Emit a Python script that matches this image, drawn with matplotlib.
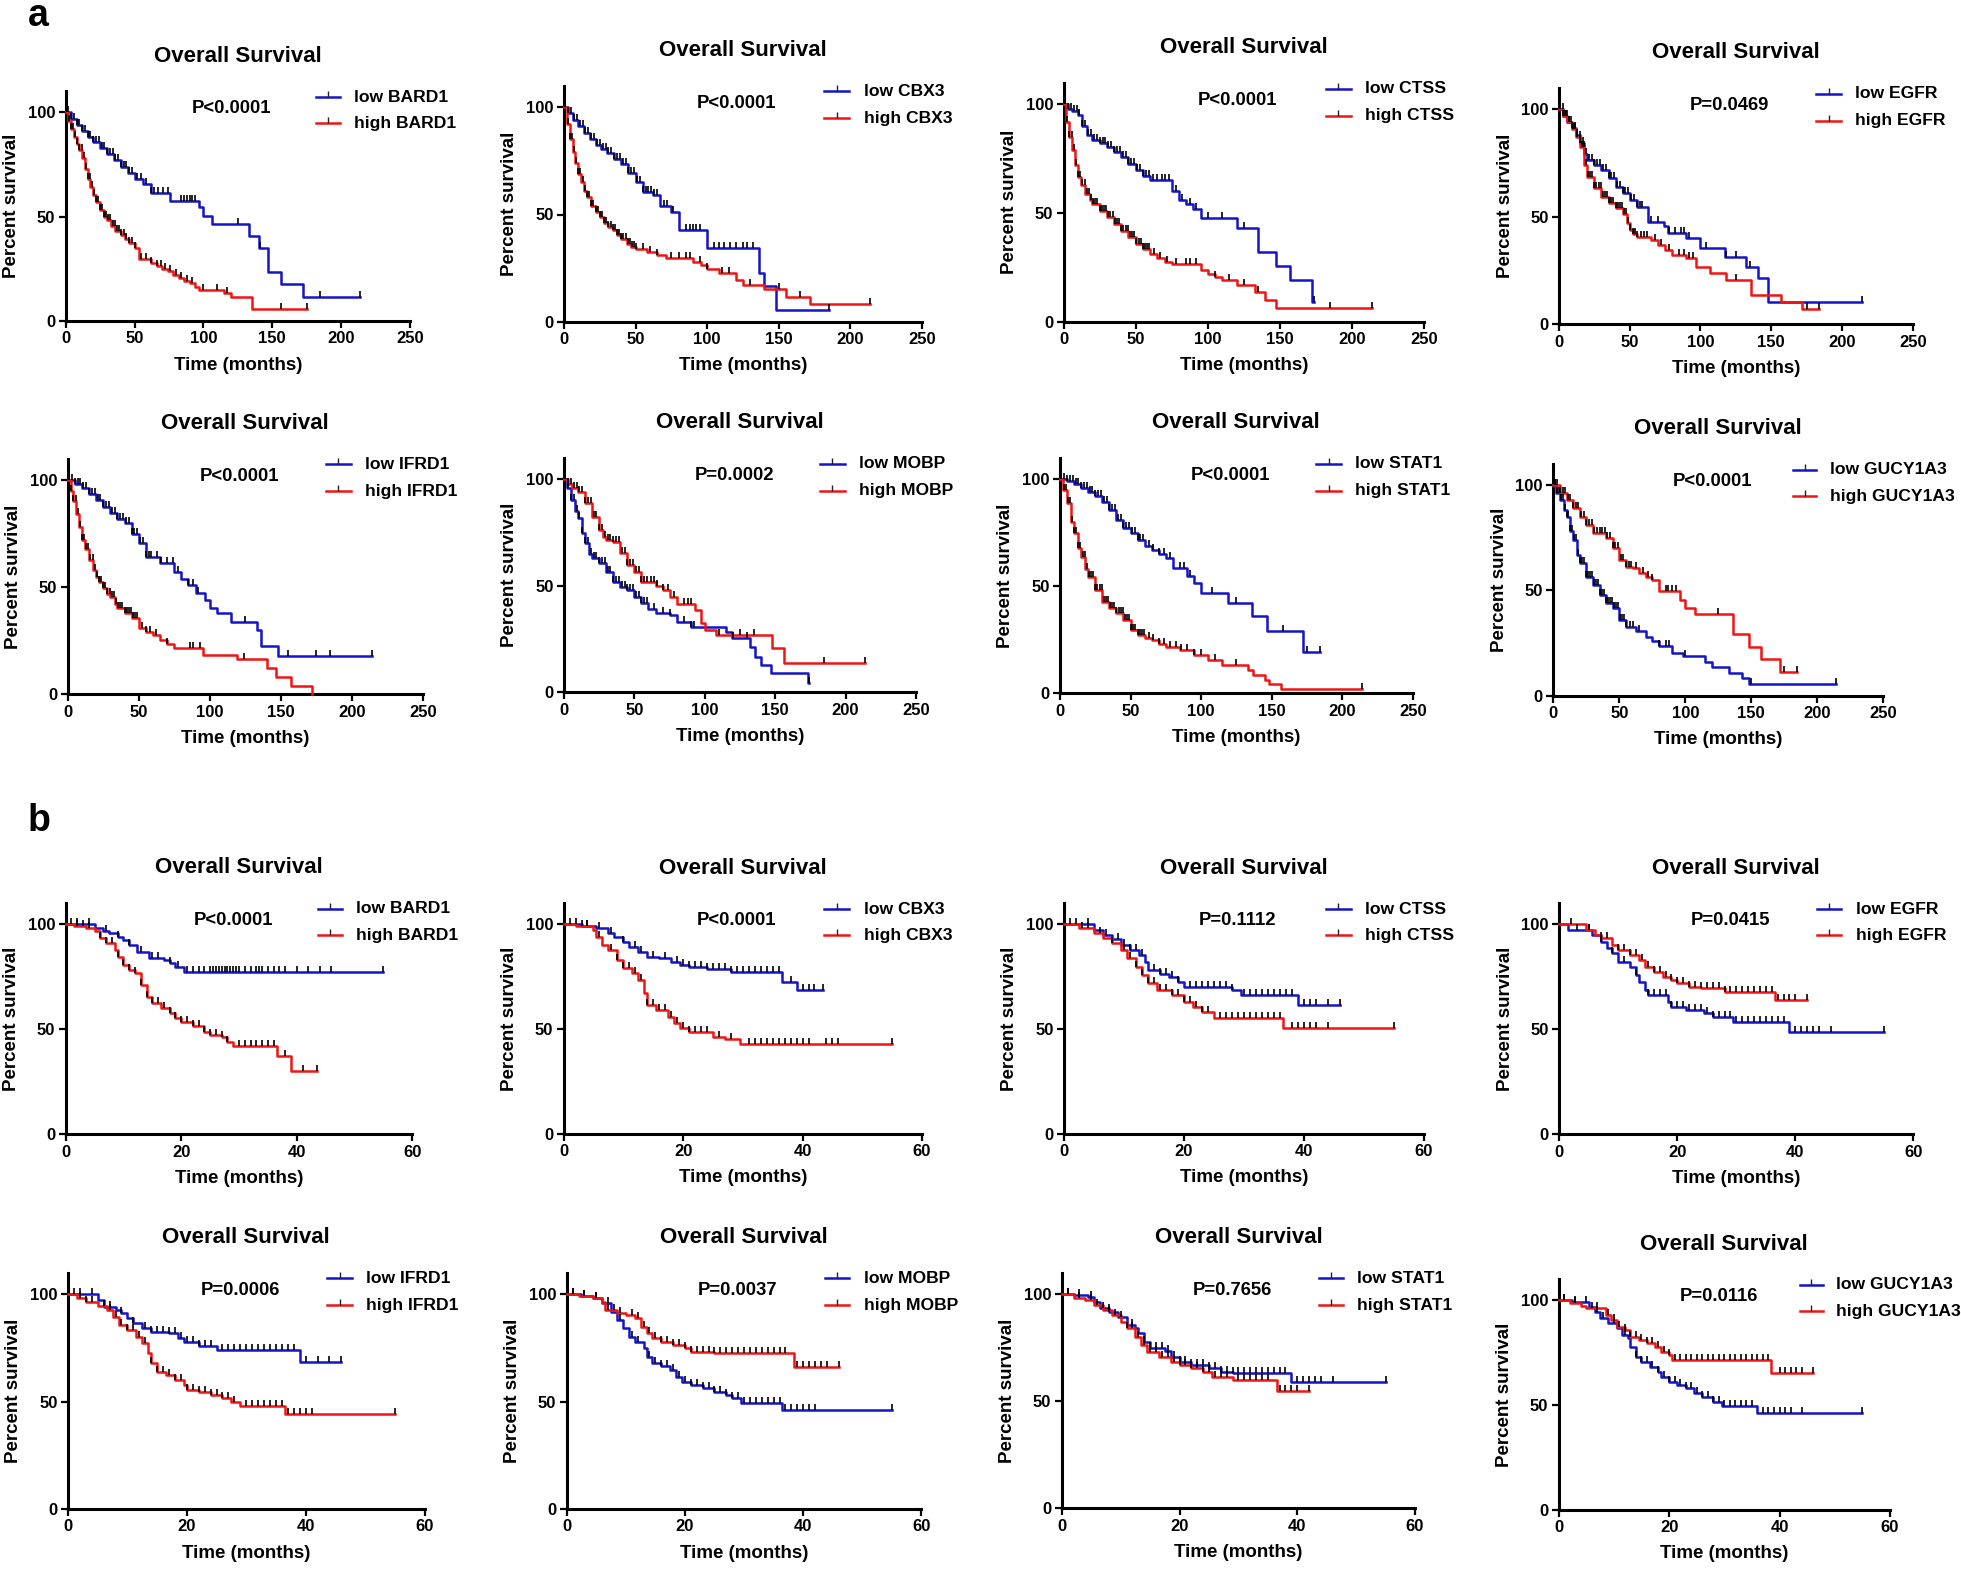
import numpy as np
import matplotlib.pyplot as plt

plt.rcParams['font.family'] = ['Liberation Sans', 'DejaVu Sans']
plt.rcParams['font.weight'] = 'bold'

# ---------------- data ----------------
# each curve: (months, percent survival) where a step starts; censor times in months
genes = ['BARD1', 'CBX3', 'CTSS', 'EGFR', 'IFRD1', 'MOBP', 'STAT1', 'GUCY1A3']
pvals_a = ['P<0.0001', 'P<0.0001', 'P<0.0001', 'P=0.0469',
           'P<0.0001', 'P=0.0002', 'P<0.0001', 'P<0.0001']
pvals_b = ['P<0.0001', 'P<0.0001', 'P=0.1112', 'P=0.0415',
           'P=0.0006', 'P=0.0037', 'P=0.7656', 'P=0.0116']

# --- panel a (0-250 months) ---
a_low_bard1 = [(0,100),(4,97),(8,94),(12,91),(16,88),(20,86),(25,83),(30,80),(35,77),(40,74),(45,71),
               (50,68),(56,65.5),(62,61.5),(76,57.5),(97,54.5),(100,50.5),(106,46.3),(133,40.8),
               (140,35),(147,23.3),(156,17.6),(172,11.7)]
a_low_bard1_c = [2,4,6,8,10,12,14,16,18,20,22,24,26,28,30,32,34,36,38,40,42,44,46,48,52,55,58,62,64,
                 67,71,74,84,86,88,90,92,94,125,141,185,214]
a_high_bard1 = [(0,100),(2,96),(4,92),(6,88),(8,85),(10,82),(12,78),(14,73),(16,68),(18,64),(20,60.5),
                (22,57),(25,53),(28,50),(30,48.5),(33,45.5),(36,43),(40,41),(43,39.5),(46,37.5),(50,35),
                (53,29.8),(62,28),(66,26.5),(70,25),(74,24),(78,22),(82,20.5),(86,19),(90,18),(94,16.5),
                (97,15),(115,13.3),(120,11.5),(135,5.6)]
a_high_bard1_c = [1,2.5,4,5.5,7,8.5,10,11.5,13,14.5,16,17.5,19,20.5,22,23.5,25,26.5,28,29.5,31,32.5,34,
                  35.5,37,38.5,40,42,44,46,48,50,55,58,62,66,69,72,76,80,84,88,92,100,110,117,156,175]

a_low_cbx3 = [(0,100),(3,97),(6,94),(10,91),(14,88),(18,85),(22,82.5),(26,80.5),(30,78.5),(35,76),
              (40,73.5),(45,69.5),(50,65),(55,60.5),(62,58.9),(67,54),(75,51),(80,42.6),(100,34.6),
              (136,22.8),(140,16.7),(148,5.4)]
a_low_cbx3_c = [1,3,5,7,9,11,13,15,17,19,21,23,25,27,29,31,33,35,37,39,41,43,45,47,49,51,53,55,57,59,
                61,63,65,70,72,76,85,88,90,92,95,105,108,112,116,120,125,128,132,185]
a_high_cbx3 = [(0,100),(2,92),(4,85),(6,79),(8,74),(10,69),(12,65),(14,61),(16,58),(19,54),(22,51),
               (25,48.8),(28,46),(31,44),(34,42.6),(37,40.5),(40,38.8),(44,36.5),(47,35),(50,34),
               (58,32.5),(65,31),(71,30),(90,27.9),(96,26.3),(100,24.8),(108,22.8),(120,19.4),
               (125,17.4),(140,15.2),(155,11.6),(172,8.5)]
a_high_cbx3_c = [1,2.5,4,5.5,7,8.5,10,11.5,13,14.5,16,17.5,19,20.5,22,23.5,25,26.5,28,29.5,31,32.5,
                 34,35.5,37,38.5,40,41.5,43,44.5,46,47.5,49,50.5,55,60,65,75,80,85,88,95,100,110,115,
                 130,150,165,214]

a_low_ctss = [(0,100),(3,98),(6,97),(10,95),(13,90),(16,86),(20,83.6),(25,82),(30,80.5),(35,78),
              (40,75.9),(45,72.5),(50,69.8),(55,67),(60,65.2),(75,60),(80,56),(85,54.4),(90,52),
              (95,47.8),(120,43.3),(135,32.2),(147,25.8),(157,19.5),(172,9.2)]
a_low_ctss_c = [1,3,5,7,9,11,13,15,17,19,21,23,25,27,29,31,33,35,37,39,41,43,45,47,49,51,53,55,57,59,
                62,65,68,70,73,78,82,88,92,100,110,125,174]
a_high_ctss = [(0,100),(2,92),(4,85),(6,79),(8,72),(10,66.7),(12,63),(15,59),(18,56),(20,54.3),(25,51),
               (30,48.3),(35,45),(40,42),(45,39),(50,36),(55,33.5),(60,31.4),(65,29.5),(70,27.6),
               (75,26.5),(95,24),(100,22.2),(105,20.5),(110,19.5),(120,16.9),(133,13.8),(140,10),
               (147,6.3)]
a_high_ctss_c = [1,2.5,4,5.5,7,8.5,10,11.5,13,14.5,16,17.5,19,20.5,22,23.5,25,26.5,28,29.5,31,32.5,34,
                 35.5,37,38.5,40,41.5,43,44.5,46,47.5,49,50.5,52,53.5,55,56.5,58,59.5,63,67,72,78,85,
                 88,92,105,115,125,135,185,214]

a_low_egfr = [(0,100),(3,97),(6,94),(9,91.5),(12,88),(15,84.2),(18,79),(20,76.4),(25,74),(30,71.8),
              (35,68),(40,64),(45,61),(50,57.8),(55,54.4),(63,47.8),(74,45.5),(77,42.3),(90,40),
              (100,35.3),(117,31.5),(132,26.8),(141,21.4),(148,10.5)]
a_low_egfr_c = [1,3,5,7,9,11,13,15,17,19,21,23,25,27,29,31,33,35,37,39,41,43,45,47,49,51,53,55,57,59,
                65,70,78,82,86,88,92,104,118,125,135,214]
a_high_egfr = [(0,100),(3,97),(6,94),(9,91),(12,87),(15,82.6),(18,74),(20,68.7),(25,63.3),(30,59.4),
               (35,56.5),(40,54),(45,51.5),(48,47),(50,44),(52,42),(55,40.5),(65,39),(70,36.9),
               (75,34.5),(80,32.2),(90,30.7),(97,26.8),(107,23.7),(118,20.6),(136,13.6),(157,10.5),
               (172,7.1)]
a_high_egfr_c = [1,2.5,4,5.5,7,8.5,10,11.5,13,14.5,16,17.5,19,20.5,22,23.5,25,26.5,28,29.5,31,32.5,34,
                 35.5,37,38.5,40,41.5,43,44.5,46,47.5,49,50.5,52,53.5,55,58,60,62,68,72,78,85,88,92,
                 95,125,175,184]

a_low_ifrd1 = [(0,100),(5,98),(10,96.1),(15,93.5),(20,90.7),(25,87.5),(30,84.4),(35,82),(40,79.8),
               (45,75),(50,70.5),(55,64.2),(65,61.1),(75,57.2),(80,54),(85,51),(90,47.1),(97,44),
               (100,40.1),(105,37.8),(115,33.9),(133,30),(136,22.6),(148,17.9)]
a_low_ifrd1_c = [1,3,5,7,9,11,13,15,17,19,21,23,25,27,29,31,33,35,37,39,41,43,45,47,49,51,53,55,57,59,
                 63,66,70,74,78,85,88,92,125,155,175,185,214]
a_high_ifrd1 = [(0,100),(2,95),(4,90),(6,84),(8,78),(10,72),(12,68),(15,62.7),(18,58),(20,54.9),
                (22,52.5),(25,49.5),(28,47),(30,45.6),(33,42),(35,40.1),(40,37.8),(45,35.5),(50,30.8),
                (55,29.2),(60,27.5),(65,25.3),(70,23.5),(75,21.5),(95,18.4),(119,16.3),(140,12.1),
                (147,7.9),(157,3.9),(172,0)]
a_high_ifrd1_c = [1,2.5,4,5.5,7,8.5,10,11.5,13,14.5,16,17.5,19,20.5,22,23.5,25,26.5,28,29.5,31,32.5,
                  34,35.5,37,38.5,40,41.5,43,44.5,46,47.5,49,52,55,58,62,70,86,88,93,124]

a_low_mobp = [(0,100),(2,96),(5,90.3),(8,85),(10,81.7),(13,75),(15,70),(18,65),(20,62.9),(25,60.6),
              (30,56.7),(35,52),(40,49.6),(45,48),(50,44.9),(55,41.8),(60,39),(65,37.1),(75,36.3),
              (80,33.2),(90,30.8),(115,28.2),(119,25.4),(132,21.4),(136,16.7),(140,12.8),(147,9.2),
              (173,4.2)]
a_low_mobp_c = [1,3,5,7,9,11,13,15,17,19,21,23,25,27,29,31,33,35,37,39,41,43,45,47,49,51,53,55,57,59,
                64,70,75,85,90,92,120,130,174]
a_high_mobp = [(0,100),(3,98),(6,96),(10,94.2),(15,88.7),(20,82.5),(25,76.2),(28,73),(30,71.5),
               (35,70.7),(40,65.3),(45,59.8),(50,56.7),(55,52),(65,50),(70,48),(75,44.9),(80,41.5),
               (93,38.7),(97,32.7),(100,29.3),(108,26.9),(148,20.6),(156,13.6)]
a_high_mobp_c = [1,3,5,7,9,11,13,15,17,19,21,23,25,27,29,31,33,35,37,39,41,43,45,47,49,51,53,55,57,59,
                 62,64,66,70,74,78,85,88,90,110,125,135,185,214]

a_low_stat1 = [(0,100),(5,99),(10,98),(15,96),(20,94.2),(25,92),(30,89.6),(35,85.7),(40,81),
               (45,77.1),(50,74.8),(55,71.7),(60,69),(65,67),(70,65),(75,63.1),(80,58.4),(90,55),
               (95,51.4),(100,46.7),(119,42),(136,36.1),(147,29.1),(172,19.2)]
a_low_stat1_c = [1,3,5,7,9,11,13,15,17,19,21,23,25,27,29,31,33,35,37,39,41,43,45,47,49,51,53,55,57,59,
                 63,66,70,74,78,85,88,92,108,125,158,175,184]
a_high_stat1 = [(0,100),(2,95),(5,88.8),(8,80),(10,74.8),(13,68),(15,63.9),(18,58),(20,54.5),
                (25,48.3),(30,42.8),(35,39.7),(40,37.4),(45,34.3),(50,29.6),(55,27.3),(60,26),
                (65,24.9),(70,23),(75,21.8),(85,20.2),(95,17.9),(105,15.6),(115,13.2),(133,10.9),
                (137,8.6),(145,6.2),(148,4.2),(157,2)]
a_high_stat1_c = [1,2.5,4,5.5,7,8.5,10,11.5,13,14.5,16,17.5,19,20.5,22,23.5,25,26.5,28,29.5,31,32.5,
                  34,35.5,37,38.5,40,41.5,43,44.5,46,47.5,49,50.5,52,53.5,55,56.5,58,59.5,63,66,70,
                  74,78,82,86,90,95,100,110,125,214]

a_low_gucy = [(0,100),(2,96),(5,92.9),(8,88),(10,85),(13,78),(15,73.9),(18,67),(20,62.8),(25,56.5),
              (30,52.5),(35,47.8),(40,43.8),(45,41.5),(50,35.9),(55,32.8),(63,30.5),(70,28),(75,26.1),
              (80,23.7),(90,20.1),(98,18.8),(115,16.1),(120,13.8),(133,10.6),(143,8.2),(148,5.5)]
a_low_gucy_c = [1,2.5,4,5.5,7,8.5,10,11.5,13,14.5,16,17.5,19,20.5,22,23.5,25,26.5,28,29.5,31,32.5,34,
                35.5,37,38.5,40,41.5,43,44.5,46,47.5,49,50.5,52,53.5,55,58,60,65,80,85,88,100,150,214]
a_high_gucy = [(0,100),(5,96),(10,92.9),(15,89),(20,85),(25,81),(30,77),(40,74.7),(45,70),(50,64.4),
               (55,61.2),(60,60.4),(65,58),(70,56.5),(75,54.9),(80,49.8),(96,45.4),(100,41.5),
               (107,38.8),(136,29.1),(148,23.3),(157,17.2),(172,11.4)]
a_high_gucy_c = [1,3,5,7,9,11,13,15,17,19,21,23,25,27,29,31,33,35,37,39,41,43,45,47,49,51,53,55,57,59,
                 63,68,72,75,85,87,90,93,125,175,185]

# --- panel b (0-60 months) ---
b_low_bard1 = [(0,100),(5,97.9),(6.5,96.5),(7.5,95.6),(9,94),(10,92.4),(11,90),(12.3,86.8),(14.5,83.7),
               (17,82.9),(18,81.3),(19,79.7),(20.5,77.3)]
b_low_bard1_c = [2,4,7,9,11,13,15,16,18,19.5,21,22,23,24,25,25.5,26,26.5,27,27.5,28,28.5,29,29.5,30,31,
                 32,33,33.5,34,35,36,37,38,40,42,44,46,55]
b_high_bard1 = [(0,100),(1.5,99),(3.5,97.9),(5,96.5),(6,93.2),(7,90.8),(8.5,87.6),(9,84.5),(10,80.5),
                (11,78.1),(12,76.5),(13,71),(14,65.5),(15,62.3),(16.5,59.9),(18,57.5),(19,55.2),
                (20,53.6),(22,51.7),(24,48.8),(25,47.2),(27,46.1),(28,44.1),(29,42.2),(36.5,37.4),
                (39,30.3)]
b_high_bard1_c = [1,2,3,4,6,7,8,9,10,11,12,13,14,15,16,17,18,19,20,21,22,23,24,25,26,27,28,30,31,32,
                  33,34,35,36,38,41,43.5]

b_low_cbx3 = [(0,100),(3,99),(5.5,98.1),(7.5,96),(8.5,94.1),(10,91.7),(11,89.3),(12.5,87),(14,84.6),
              (16,83.8),(18,82.2),(19.5,80.6),(21,79.8),(24,78.7),(28,77.4),(36.5,72.7),(39,68.7)]
b_low_cbx3_c = [2,4,6,8,10,12,13,15,17,19,20,21,22,23,24,25,26,27,28,29,30,31,32,33,34,35,36,38,40,
                41,42,43.5]
b_high_cbx3 = [(0,100),(2,99),(5,97.3),(5.5,94),(6.5,90.1),(7.5,87.8),(9,83),(10,79),(11.5,76.6),
               (12.5,73.4),(13.5,67.1),(14,61.5),(15.5,59.1),(17.5,56),(18.5,52.8),(19.5,50.4),
               (21,48.8),(25,46.4),(27,45.2),(29.5,42.9)]
b_high_cbx3_c = [1,3,4,6,8,9,10,11,12,13,14,15,16,17,18,19,20,21,22,23,24,26,28,31,32,33,34,35,36,37,
                 38,39,40,41,44,45,46,55]

b_low_ctss = [(0,100),(5,97.3),(6.5,94.9),(8,93),(9.5,90.1),(11,87.8),(12.5,85.4),(13.5,82.2),
              (14,78.2),(16,76.3),(17.5,75),(19,72.7),(20,70.3),(28,68.7),(29.5,66.3),(39,61.5)]
b_low_ctss_c = [2,4,7,9,10,11,12,13,15,16,17,18,19,21,22,23,24,25,26,27,28,30,31,32,33,34,35,36,37,38,
                40,41,42,44,46]
b_high_ctss = [(0,100),(2.5,98.1),(5,95.7),(6.5,93.3),(8,90.9),(9.5,87.8),(10.5,83.8),(12,79.8),
               (13,75.8),(14,71.9),(15.5,68.7),(18,66.3),(20,63.1),(21.5,60.7),(23,58.3),(25,55.2),
               (36.5,50.4)]
b_high_ctss_c = [1,3,4,6,8,10,11,12,13,14,15,16,17,18,19,20,21,22,23,24,26,27,28,29,30,31,32,33,34,35,
                 36,38,39,40,41,42,44,55]

b_low_egfr = [(0,100),(1.5,97.3),(5.5,94.9),(7,91.7),(8,88.6),(9,86.2),(10,82.2),(12,79.8),(13,75.9),
              (13.5,72.7),(14.5,68.7),(15,66.3),(18.5,63.2),(19,60.8),(21.5,59.2),(24.5,57.6),(26,56),
              (29.5,53.7),(39,48.9)]
b_low_egfr_c = [3,5,7,9,11,13,15,16,17,18,19,20,21,22,23,24,25,26,27,28,29,30,31,32,33,34,35,36,37,38,
                40,41,42,43,44,46,55]
b_high_egfr = [(0,100),(4.5,97.3),(6,94.9),(7,93.3),(9,90.2),(10,87.8),(12,85.4),(13.5,83),(14.5,79.8),
               (16,77.5),(17.5,75),(19,73.5),(20,71.9),(22,70.3),(24,69.5),(28,67.9),(36.5,64)]
b_high_egfr_c = [2,5,7,8,10,11,12,13,14,15,16,17,18,19,20,21,22,23,24,25,26,27,28,29,30,31,32,33,34,
                 35,36,37,38,39,40,42]

b_low_ifrd1 = [(0,100),(5,97.2),(6,94.1),(8,92.6),(9,91),(10,88.7),(11,86.4),(12.5,84),(14,82.5),
               (17,81.7),(18.5,79.4),(19.5,77.5),(22,76),(25,74),(39,68.2)]
b_low_ifrd1_c = [2,4,7,9,11,13,14,15,16,17,18,19,20,21,22,23,24,26,27,28,29,30,31,32,33,34,35,36,37,
                 38,40,42,44,46]
b_high_ifrd1 = [(0,100),(1.5,98),(3,96.4),(5,94.4),(6.5,92.6),(7.5,89.5),(8.5,85.6),(10,83.3),
                (11.5,80.2),(12.5,77),(13.5,72.4),(14,67.8),(15,63.9),(16.5,62.3),(18,60),(19.5,57.7),
                (20,55.3),(22,54.3),(24,53),(26,51.5),(27.5,49.9),(29,47.9),(36.5,44.2)]
b_high_ifrd1_c = [1,2,3,4,6,7,8,9,10,11,12,13,14,15,16,17,18,19,20,21,22,23,24,25,26,27,28,30,31,32,
                  33,34,35,36,37,38,39,40,41,55]

b_low_mobp = [(0,100),(2.5,99),(4.5,98),(6,95.7),(7.5,91.8),(8.5,87.9),(9.5,84),(10.5,80.2),
              (11.5,77.8),(13,74.7),(13.5,70.9),(14.5,67.8),(16,66.5),(17.5,64.7),(18.5,61.6),
              (19.5,59.2),(21,57.7),(23,56.1),(25,54.6),(27,53),(28,51.5),(29.5,49.1),(36.5,46)]
b_low_mobp_c = [1,3,5,7,9,11,12,14,15,16,17,18,19,20,21,22,23,24,25,26,27,28,29,30,31,32,33,34,35,36,
                37,38,39,40,41,42,55]
b_high_mobp = [(0,100),(2,99),(4.5,98),(6,96.4),(6.5,92.6),(8.5,91),(10,90.2),(11.5,88.7),(12.5,84.8),
               (13.5,81.7),(14.5,79.4),(16,77.8),(18,76.3),(20,74.7),(21,73.2),(25,72.4),(38.5,66.2)]
b_high_mobp_c = [1,3,5,7,8,9,11,12,13,14,15,16,17,18,19,20,21,22,23,24,25,26,27,28,29,30,31,32,33,34,
                 35,36,37,39,40,41,42,43,44,46]

b_low_stat1 = [(0,100),(2,99.5),(4.5,98.4),(5.5,96.4),(6.5,93.3),(8,91.8),(9.5,89.4),(11,85.5),
               (12.5,84),(13,81.6),(14,77.8),(15,74.7),(17.5,73.4),(18.5,70.8),(20,68.4),(22,66.9),
               (25,65.3),(27,63.8),(29,63),(39,59.1)]
b_low_stat1_c = [1,3,5,7,8,10,12,14,15,16,17,18,19,20,21,22,23,24,25,26,27,28,29,30,31,32,33,34,35,36,
                 37,38,40,41,42,43,44,46,55]
b_high_stat1 = [(0,100),(2,98),(4,97.2),(5.5,94.9),(7,92.5),(8.5,90.2),(10,87.1),(11,84),(12.5,80.1),
                (13.5,76.2),(14.5,73.1),(16.5,70.8),(18.5,68.4),(20,66.9),(22,65.3),(24,63.8),
                (25.5,61.4),(29,59.9),(36.5,54.9)]
b_high_stat1_c = [1,3,5,6,8,9,11,12,13,14,15,16,17,18,19,20,21,22,23,24,25,26,27,28,30,31,32,33,34,35,
                  37,38,39,40,42]

b_low_gucy = [(0,100),(2.5,99.2),(5.5,96.8),(6.5,94.4),(7.5,91.3),(9,88.9),(10.5,86.5),(11.5,83.3),
              (12.5,81.7),(13,77.8),(14,73),(15,70.6),(16.5,68.3),(18,65.9),(18.5,63.5),(20,61.1),
              (21.5,59.5),(23,57.9),(24.5,55.6),(26,54),(28,51.6),(29.5,49.5),(36,46)]
b_low_gucy_c = [1,3,5,7,8,10,12,14,15,16,17,18,19,20,21,22,23,24,25,26,27,28,29,30,31,32,33,34,35,37,
                38,39,40,41,42,44,55]
b_high_gucy = [(0,100),(2,98.4),(4,97.1),(5,96),(8.5,92.9),(9.5,90.5),(10.5,87.3),(12,85.7),(13,82.5),
               (14.5,81),(16,79.4),(17.5,77.8),(18.5,75.4),(20,73.8),(20.5,71.4),(38.5,65.1)]
b_high_gucy_c = [1,3,6,7,9,10,11,12,13,14,15,16,17,18,19,20,21,22,23,24,25,26,27,28,29,30,31,32,33,34,
                 35,36,37,38,40,41,42,43,44,46]

curves_a = [(a_low_bard1, a_low_bard1_c, a_high_bard1, a_high_bard1_c),
            (a_low_cbx3, a_low_cbx3_c, a_high_cbx3, a_high_cbx3_c),
            (a_low_ctss, a_low_ctss_c, a_high_ctss, a_high_ctss_c),
            (a_low_egfr, a_low_egfr_c, a_high_egfr, a_high_egfr_c),
            (a_low_ifrd1, a_low_ifrd1_c, a_high_ifrd1, a_high_ifrd1_c),
            (a_low_mobp, a_low_mobp_c, a_high_mobp, a_high_mobp_c),
            (a_low_stat1, a_low_stat1_c, a_high_stat1, a_high_stat1_c),
            (a_low_gucy, a_low_gucy_c, a_high_gucy, a_high_gucy_c)]
curves_b = [(b_low_bard1, b_low_bard1_c, b_high_bard1, b_high_bard1_c),
            (b_low_cbx3, b_low_cbx3_c, b_high_cbx3, b_high_cbx3_c),
            (b_low_ctss, b_low_ctss_c, b_high_ctss, b_high_ctss_c),
            (b_low_egfr, b_low_egfr_c, b_high_egfr, b_high_egfr_c),
            (b_low_ifrd1, b_low_ifrd1_c, b_high_ifrd1, b_high_ifrd1_c),
            (b_low_mobp, b_low_mobp_c, b_high_mobp, b_high_mobp_c),
            (b_low_stat1, b_low_stat1_c, b_high_stat1, b_high_stat1_c),
            (b_low_gucy, b_low_gucy_c, b_high_gucy, b_high_gucy_c)]

# ---------------- layout (pixels: x of 0, x of max, y of 0, y of 100) ----------------
boxes_a = [(65.7, 410, 321, 112.3), (564, 922, 322, 107), (1063.6, 1424, 322, 104.3),
           (1559, 1912.7, 324.3, 109.3), (67.7, 422.7, 694.3, 480), (564, 916, 692.3, 479.3),
           (1060, 1412.7, 693.3, 479.3), (1553.3, 1883.3, 695.7, 485)]
boxes_b = [(65.7, 412.3, 1134.3, 924), (563.6, 922, 1134, 924.3), (1064, 1424, 1134, 924.3),
           (1559.3, 1913.3, 1134.3, 924.3), (68, 424.5, 1509, 1294), (566.7, 921.4, 1509, 1294),
           (1061.8, 1415, 1508.3, 1294), (1558.6, 1890, 1510, 1300)]

W, H = 1961, 1569
BLUE = '#1414c8'
RED = '#f01414'
TICK = [(0, 0), (0, 1)]   # censor mark: short upward tick

fig = plt.figure(figsize=(W / 100, H / 100), dpi=100)
fig.patch.set_facecolor('white')


def km(ax, pts, cens, color):
    t = np.array([p[0] for p in pts], dtype=float)
    s = np.array([p[1] for p in pts], dtype=float)
    end = max(max(cens), t[-1])
    ax.plot(np.append(t, end), np.append(s, s[-1]), drawstyle='steps-post',
            color=color, lw=1.8, clip_on=False, zorder=3)
    c = np.array(cens, dtype=float)
    cy = s[np.searchsorted(t, c, side='right') - 1]
    ax.plot(c, cy, ls='none', marker=TICK, ms=9, mew=1.2, color='black',
            clip_on=False, zorder=4)


def panel(box, xmax, xticks, gene, pval, low, low_c, high, high_c):
    x0, x1, y0, y100 = box
    ytop = y0 - (y0 - y100) * 1.1
    w = x1 - x0
    h = y0 - ytop
    ax = fig.add_axes([x0 / W, 1 - y0 / H, w / W, h / H])
    ax.set_xlim(0, xmax)
    ax.set_ylim(0, 110)
    for side in ['top', 'right']:
        ax.spines[side].set_visible(False)
    for side in ['left', 'bottom']:
        ax.spines[side].set_linewidth(2.2)
    ax.set_xticks(xticks)
    ax.set_yticks([0, 50, 100])
    ax.tick_params(length=5, width=1.6, labelsize=12, pad=2.5, direction='out')

    km(ax, low, low_c, BLUE)
    km(ax, high, high_c, RED)

    ax.text(0.5, 1 + 35 / h, 'Overall Survival', transform=ax.transAxes,
            ha='center', va='center', fontsize=16)
    ax.text(-54 / w, 0.5, 'Percent survival', transform=ax.transAxes, rotation=90,
            ha='center', va='center', fontsize=13.5)
    ax.text(0.5, -44 / h, 'Time (months)', transform=ax.transAxes,
            ha='center', va='center', fontsize=13.5)
    ax.text(0.483, 0.925, pval, transform=ax.transAxes, ha='center', va='center',
            fontsize=13.3)
    for lab, col, yy in [('low ' + gene, BLUE, 0.975), ('high ' + gene, RED, 0.861)]:
        ax.plot([0.727, 0.797], [yy, yy], transform=ax.transAxes, color=col, lw=1.8,
                clip_on=False)
        ax.plot([0.762], [yy], transform=ax.transAxes, ls='none', marker=TICK, ms=8,
                mew=1.0, color='#222222', clip_on=False)
        ax.text(0.837, yy, lab, transform=ax.transAxes, ha='left', va='center',
                fontsize=12.6)


for i in range(8):
    panel(boxes_a[i], 250, [0, 50, 100, 150, 200, 250], genes[i], pvals_a[i], *curves_a[i])
    panel(boxes_b[i], 60, [0, 20, 40, 60], genes[i], pvals_b[i], *curves_b[i])

fig.text(28 / W, 1 - 26 / H, 'a', fontsize=27, ha='left', va='baseline')
fig.text(28 / W, 1 - 831 / H, 'b', fontsize=27, ha='left', va='baseline')

fig.savefig('out.png', dpi=100, facecolor='white')
